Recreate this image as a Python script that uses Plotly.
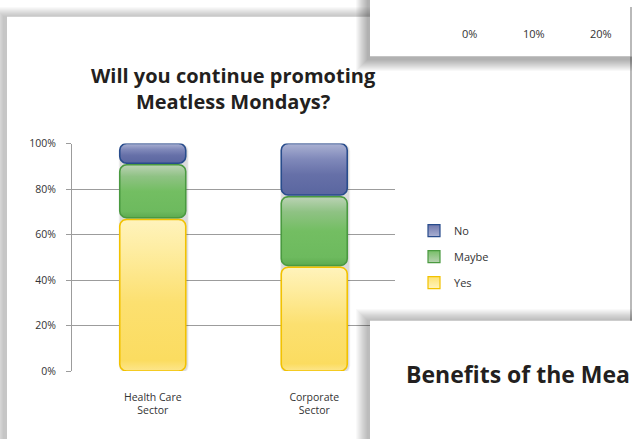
import numpy as np
import plotly.graph_objects as go

# ---- data ----
categories = ["Health Care<br>Sector", "Corporate<br>Sector"]
series_names = ["Yes", "Maybe", "No"]
yes_pct = [67, 46]
maybe_pct = [24, 31]
no_pct = [9, 23]
y_tick_vals = [0, 20, 40, 60, 80, 100]
y_tick_text = ["0%", "20%", "40%", "60%", "80%", "100%"]
side_axis_ticks = ["0%", "10%", "20%"]
chart_title = "Will you continue promoting<br>Meatless Mondays?"
side_title = "Benefits of the Mea"

# ---- styling ----
W, H = 632, 439
FONT = "Open Sans"
TXT = "#333333"
GRID = "#9c9c9c"
styles = {
    "Yes": dict(border="#F2C200", swatch="#FDE272", gloss="#FFF4BE",
                scale=[[0, "#FDE68C"], [0.07, "#FBDC60"], [0.45, "#FCE070"],
                       [0.8, "#FEEDA2"], [1, "#FFF3BC"]]),
    "Maybe": dict(border="#4A9A40", swatch="#78BE68", gloss="#B8D2B2",
                  scale=[[0, "#5DAA50"], [0.12, "#6DBA5E"], [0.5, "#73BE62"],
                         [0.78, "#8FC284"], [1, "#BCD3B6"]]),
    "No": dict(border="#284C8C", swatch="#7078AC", gloss="#A9B0D2",
               scale=[[0, "#5A66A0"], [0.4, "#6670A8"], [0.7, "#8089BA"],
                      [1, "#ABB2D3"]]),
}

# plot-area placement in pixels
PX0, PX1 = 72, 395
PY_TOP, PY_BOT = 141, 376


def fx(x):
    return x / W


def fy(y):
    return 1 - y / H


# conversions used to keep corner radii round on screen
sx = (PX1 - PX0) / 2.0        # pixels per category unit
sy = (PY_BOT - PY_TOP) / 100  # pixels per percent
HALF_W = 33 / sx
R_PX = 7


def rounded_rect(xc, y0, y1, hw, r_px=R_PX, n=9):
    rx = r_px / sx
    ry = min(r_px / sy, (y1 - y0) / 2)
    xl, xr = xc - hw, xc + hw
    t = np.linspace(0, np.pi / 2, n)
    xs, ys = [], []
    for cx, cy, a0 in [(xr - rx, y0 + ry, -np.pi / 2), (xr - rx, y1 - ry, 0),
                       (xl + rx, y1 - ry, np.pi / 2), (xl + rx, y0 + ry, np.pi)]:
        a = a0 + t
        xs.extend(cx + rx * np.cos(a))
        ys.extend(cy + ry * np.sin(a))
    xs.append(xs[0])
    ys.append(ys[0])
    return xs, ys


fig = go.Figure()

values = {"Yes": yes_pct, "Maybe": maybe_pct, "No": no_pct}

# soft drop shadows behind each stacked column
for i in range(len(categories)):
    total = yes_pct[i] + maybe_pct[i] + no_pct[i]
    for grow, alpha in [(2, 0.05), (1, 0.09)]:
        xs, ys = rounded_rect(i + 1 / sx, -(1.5 + grow) / sy, total - 1 / sy + grow / sy,
                              HALF_W + grow / sx, R_PX + grow)
        fig.add_trace(go.Scatter(x=xs, y=ys, mode="lines", fill="toself",
                                 fillcolor=f"rgba(0,0,0,{alpha})", line=dict(width=0),
                                 hoverinfo="skip", showlegend=False))

# stacked, individually rounded segments
gap = 0.35
for i in range(len(categories)):
    base = 0
    for name in series_names:
        v = values[name][i]
        st = styles[name]
        y0 = base + (gap if base > 0 else 0)
        y1 = base + v - (gap if base + v < 100 else 0)
        xs, ys = rounded_rect(i, y0, y1, HALF_W)
        fig.add_trace(go.Scatter(
            x=xs, y=ys, mode="lines", fill="toself",
            fillgradient=dict(type="vertical", colorscale=st["scale"]),
            line=dict(color=st["border"], width=1.6),
            name=name, legendgroup=name, showlegend=False,
            hovertemplate=f"{name}: {v}%<extra></extra>",
        ))
        base += v

# legend entries (No, Maybe, Yes from top to bottom)
for rank, name in enumerate(["No", "Maybe", "Yes"]):
    st = styles[name]
    fig.add_trace(go.Scatter(
        x=[None], y=[None], mode="markers", name=name, legendgroup=name,
        legendrank=rank + 1,
        marker=dict(symbol="square", size=12, color=st["swatch"],
                    gradient=dict(type="vertical", color=st["gloss"]),
                    line=dict(color=st["border"], width=1.2)),
    ))

# ---- background cards and overlapping panels ----
shapes = []


def shadow(x0, y0, x1, y1, spread, alpha, dx=0, dy=0, layer="below"):
    out = []
    for k in range(spread, 0, -1):
        out.append(dict(type="rect", xref="paper", yref="paper", layer=layer,
                        x0=fx(x0 + dx - k), x1=fx(x1 + dx + k),
                        y0=fy(y1 + dy + k), y1=fy(y0 + dy - k),
                        fillcolor=f"rgba(0,0,0,{alpha})", line=dict(width=0)))
    return out


def card(x0, y0, x1, y1, layer="below"):
    return dict(type="rect", xref="paper", yref="paper", layer=layer,
                x0=fx(x0), x1=fx(x1), y0=fy(y1), y1=fy(y0),
                fillcolor="white", line=dict(width=0))


# main card
shapes += shadow(7, 10, 640, 460, 10, 0.024, dx=-3)
shapes.append(card(7, 10, 640, 460))
shapes.append(dict(type="line", xref="paper", yref="paper", layer="below",
                   x0=fx(631), x1=fx(631), y0=fy(330), y1=fy(0),
                   line=dict(color="#8a8a8a", width=1.2)))

# panel at the top right
shapes += shadow(370, -10, 632, 51, 12, 0.028, dx=-2, dy=3, layer="above")
shapes.append(card(370, -10, 632, 51, layer="above"))
shapes.append(dict(type="line", xref="paper", yref="paper", layer="above",
                   x0=fx(631), x1=fx(631), y0=fy(51), y1=fy(0),
                   line=dict(color="#8a8a8a", width=1.2)))

# panel at the bottom right
shapes += shadow(370, 324, 640, 460, 12, 0.024, dx=-2, dy=0, layer="above")
shapes.append(card(370, 324, 640, 460, layer="above"))

annotations = [
    dict(text=chart_title, xref="paper", yref="paper", x=fx(234), y=fy(84),
         xanchor="center", yanchor="middle", showarrow=False, align="center",
         font=dict(family=FONT, size=20, color="#231f20", weight="bold")),
    dict(text=side_title, xref="paper", yref="paper", x=fx(404), y=fy(379),
         xanchor="left", yanchor="middle", showarrow=False,
         font=dict(family=FONT, size=23, color="#231f20", weight="bold")),
]
for label, xc in zip(side_axis_ticks, [469, 534, 601]):
    annotations.append(dict(text=label, xref="paper", yref="paper", x=fx(xc), y=fy(27),
                            xanchor="center", yanchor="middle", showarrow=False,
                            font=dict(family=FONT, size=11, color=TXT)))

fig.update_layout(
    width=W, height=H, margin=dict(l=0, r=0, t=0, b=0),
    paper_bgcolor="white", plot_bgcolor="rgba(0,0,0,0)",
    font=dict(family=FONT, color=TXT),
    shapes=shapes, annotations=annotations,
    xaxis=dict(domain=[fx(PX0), fx(PX1)], range=[-0.5, 1.5],
               tickvals=list(range(len(categories))), ticktext=categories,
               showgrid=False, zeroline=False, showline=False, ticks="",
               ticklabelstandoff=18, tickfont=dict(size=10.5, color=TXT),
               fixedrange=True),
    yaxis=dict(domain=[fy(PY_BOT), fy(PY_TOP)], range=[0, 100],
               tickvals=y_tick_vals, ticktext=y_tick_text,
               showgrid=True, gridcolor=GRID, gridwidth=1,
               showline=True, linecolor=GRID, linewidth=1,
               ticks="outside", ticklen=5, tickcolor=GRID,
               zeroline=False, ticklabelstandoff=8,
               tickfont=dict(size=10.5, color=TXT), fixedrange=True),
    showlegend=True,
    legend=dict(x=fx(414), y=fy(216), xanchor="left", yanchor="top",
                traceorder="grouped", tracegroupgap=7,
                font=dict(family=FONT, size=11, color=TXT),
                bgcolor="rgba(0,0,0,0)", itemwidth=30),
)

fig.write_html("out.html")
